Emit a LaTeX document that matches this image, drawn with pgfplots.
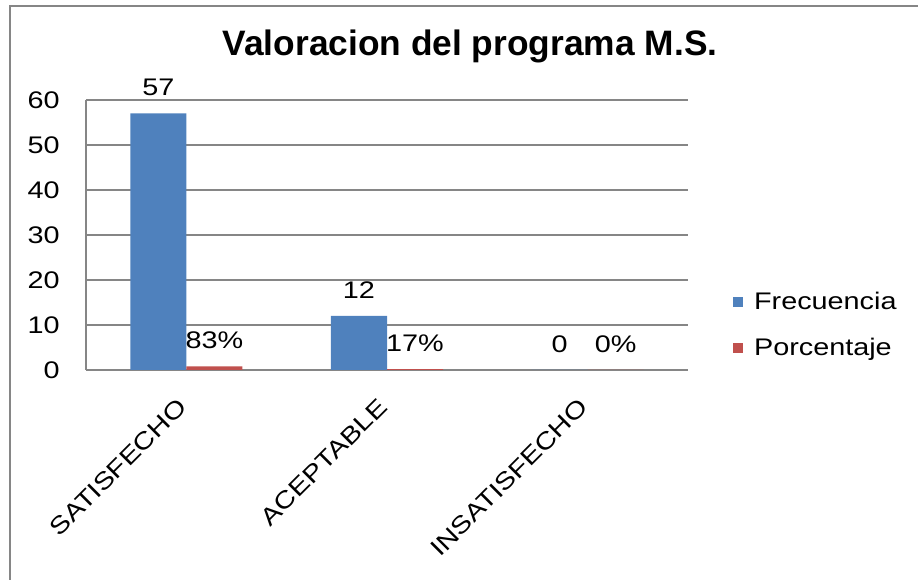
\documentclass[border=0pt]{standalone}
\usepackage{pgfplots}
\pgfplotsset{compat=1.18}
\usepackage{fontspec}
\setmainfont[FakeStretch=1.2]{Liberation Sans}
\newfontfamily\titlefont{Liberation Sans}
\definecolor{frec}{HTML}{4F81BD}
\definecolor{porc}{HTML}{C0504D}
\definecolor{gridgray}{HTML}{868686}
\begin{document}
\begin{tikzpicture}
\useasboundingbox (0,0) rectangle (688.5pt,435pt);
\draw[gridgray, line width=1.5pt] (7.5pt,0) -- (7.5pt,430.5pt) -- (690pt,430.5pt);
\node[font=\titlefont\bfseries\fontsize{26.5}{30}\selectfont] at (352.5pt,400pt) {Valoracion del programa M.S.};
\begin{axis}[
    at={(64.5pt,157.5pt)}, anchor=south west,
    scale only axis, width=451.5pt, height=202.5pt,
    ybar=0pt, bar width=42pt,
    xmin=-0.5, xmax=2.5, ymin=0, ymax=60,
    xtick=data, xticklabels={SATISFECHO,ACEPTABLE,INSATISFECHO},
    ytick={0,10,...,60},
    axis x line*=bottom, axis y line*=left,
    axis line style={gridgray, line width=1pt},
    ymajorgrids, grid style={gridgray, line width=1pt},
    major tick length=0pt,
    tick label style={font=\fontsize{18}{21}\selectfont},
    /pgf/number format/assume math mode=true,
    yticklabel style={anchor=east, inner sep=0pt, xshift=-19.5pt},
    xticklabel style={rotate=45, anchor=north east, inner sep=0pt, xshift=-19.4pt, yshift=-8.8pt},
    nodes near coords style={font=\fontsize{18}{21}\selectfont, anchor=south, inner sep=0pt, yshift=13pt, black},
    legend style={at={(1.075,0.167)}, anchor=west, draw=none, fill=none,
        font=\fontsize{18}{21}\selectfont, row sep=16.5pt, column sep=6pt, inner sep=0pt},
    legend cell align=left,
    legend image code/.code={\fill[#1] (0pt,-3.75pt) rectangle (7.5pt,3.75pt);},
]
\addplot[fill=frec, draw=none, nodes near coords] coordinates {(0,57) (1,12) (2,0)};
\addlegendentry{Frecuencia}
\addplot[fill=porc, draw=none, nodes near coords, point meta=explicit symbolic]
    coordinates {(0,0.83)[83\%] (1,0.17)[17\%] (2,0)[0\%]};
\addlegendentry{Porcentaje}
\end{axis}
\end{tikzpicture}
\end{document}
